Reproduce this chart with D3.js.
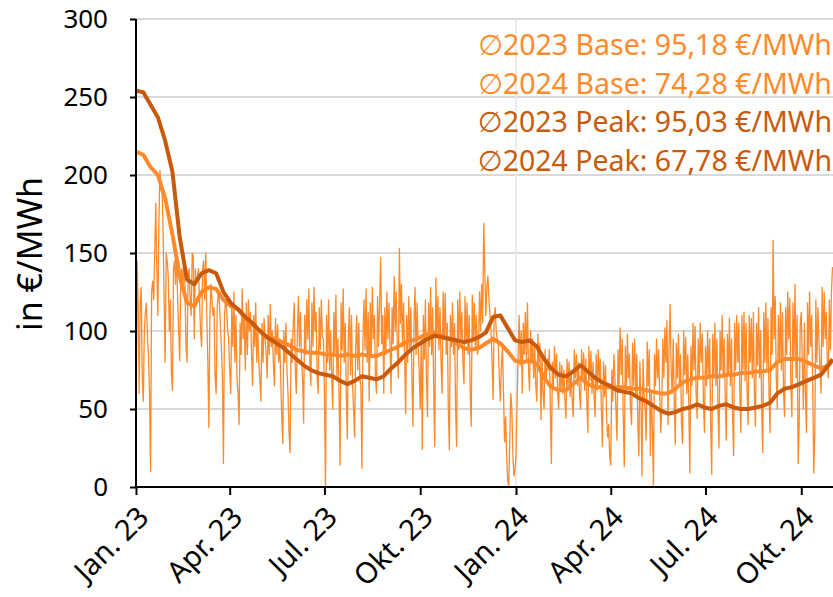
<!DOCTYPE html>
<html><head><meta charset="utf-8">
<script src="https://cdn.jsdelivr.net/npm/d3@7"></script>
<style>
body{margin:0;background:#fff}
svg{display:block}
text{font-family:"Noto Sans","DejaVu Sans",sans-serif}
</style>
</head><body>
<svg id="chart" width="833" height="597"></svg>
<script>
// Daily base price, 2023 (one line per month)
const base2023 = [
15,145,120,60,118,128,70,55,100,112,118,96,84,60,10,125,132,120,150,182,140,110,170,203,190,192,165,120,80,150,145,
135,100,120,74,62,140,145,130,150,120,100,81,135,140,125,150,130,90,80,135,140,120,110,150,148,95,140,130,
135,140,120,100,90,140,145,120,150,110,80,38,110,130,120,110,115,70,60,115,125,120,105,90,70,15,110,120,115,100,95,
75,60,115,90,125,80,110,70,60,40,105,85,127,95,110,75,118,85,120,100,112,85,65,110,90,118,80,100,80,68,
55,105,80,108,95,85,70,110,85,117,90,100,78,65,108,85,104,80,95,70,45,28,100,80,105,75,60,35,22,95,80,
105,118,75,60,100,122,90,112,80,70,41,110,85,120,95,127,80,65,118,90,128,100,112,70,60,115,88,120,97,95,
60,0,110,80,120,75,100,70,50,112,85,123,70,95,60,14,118,88,127,80,105,60,31,98,115,72,110,65,50,32,90,
110,75,105,70,65,12,95,120,88,127,80,112,55,118,85,128,95,110,70,60,122,90,118,147,92,110,60,115,85,125,95,
118,90,60,115,92,135,100,125,88,70,153,105,130,90,118,85,47,110,80,122,88,115,70,39,105,128,85,118,90,75,
50,95,24,110,82,120,70,45,118,90,128,85,115,60,26,134,98,122,88,115,80,60,125,95,124,85,105,50,24,110,90,
118,85,105,50,26,120,88,125,95,112,80,66,122,92,118,85,110,60,39,123,95,118,88,110,85,90,125,100,130,105,
169,140,110,128,135,120,110,100,80,56,110,115,100,95,90,70,55,78,90,60,29,45,20,5,0,30,60,50,20,7,11
];
// Daily base price, 2024 (Jan - Oct)
const base2024 = [
20,53,85,110,78,100,60,105,85,112,80,118,75,62,100,80,95,70,90,65,55,98,80,92,43,85,60,50,88,70,82,
75,88,50,15,80,65,90,70,85,60,50,80,62,78,60,75,55,44,82,65,80,58,75,55,45,88,70,85,65,
80,60,50,88,70,86,62,82,55,35,90,68,87,60,80,58,45,85,62,88,70,82,50,26,80,58,78,45,32,40,20,
14,75,55,85,70,50,30,88,65,102,72,95,45,13,90,60,98,70,85,50,40,92,65,95,60,85,40,20,80,55,
7,82,60,50,30,93,65,88,20,60,40,1,85,65,95,70,88,60,35,50,95,70,102,80,107,40,90,117,75,60,95,
55,27,92,70,98,65,85,40,28,100,72,96,60,85,50,9,90,65,105,75,103,60,44,95,70,105,80,98,55,35,
90,65,100,70,95,40,8,98,70,105,65,95,50,25,100,75,110,70,95,55,30,98,72,108,65,95,46,20,105,75,110,
80,105,60,35,110,75,112,68,105,60,40,110,80,108,70,112,60,39,105,78,115,70,100,50,22,112,80,118,75,108,60,
35,115,85,158,95,122,70,50,110,80,118,75,112,60,45,115,85,125,95,121,65,45,118,82,130,70,110,15,40,105,
112,80,50,105,60,35,118,85,125,90,110,65,9,35,120,80,115,95,75,60,128,90,125,95,112,80,70,120,88,125,141
];
// Rolling averages, sampled weekly (days since 1 Jan 2023)
const avgDays = [0,7,14,21,28,35,42,49,56,63,70,77,84,91,98,105,112,119,126,133,140,147,154,161,168,175,182,189,196,203,210,217,224,231,238,245,252,259,266,273,280,287,294,301,308,315,322,329,336,343,350,357,364,371,378,385,392,399,406,413,420,427,434,441,448,455,462,469,476,483,490,497,504,511,518,525,532,539,546,553,560,567,574,581,588,595,602,609,616,623,630,637,644,651,658,665,669];
const baseAvg = [215,213,205,200,185,162,135,118,116,125,128,127,120,116,114,108,104,100,96,95,93,91,88,87,86,86,85,85,84,85,84,85,84,84,86,88,90,93,94,96,98,99,97,95,92,89,88,89,92,95,92,87,81,80,81,79,70,64,62,62,66,70,66,64,64,64,64,64,63,63,62,61,60,60,63,67,69,70,70,71,71,72,72,73,73,74,74,75,80,82,82,82,80,78,76,78,81];
const peakAvg = [254,253,245,237,222,202,160,133,130,137,139,137,125,118,114,109,105,100,96,93,90,86,82,78,75,73,72,71,68,66,68,71,70,69,71,76,80,85,89,92,95,97,96,95,94,93,94,96,99,109,110,102,94,93,94,90,82,76,72,71,74,78,74,70,67,65,62,61,60,57,55,52,49,47,48,50,51,53,51,50,52,53,51,50,50,51,52,54,60,63,64,66,68,70,72,78,82];

const yTicks = [0,50,100,150,200,250,300];
const xTickDates = ["2023-01-01","2023-04-01","2023-07-01","2023-10-01","2024-01-01","2024-04-01","2024-07-01","2024-10-01"];
const xTickLabels = ["Jan. 23","Apr. 23","Jul. 23","Okt. 23","Jan. 24","Apr. 24","Jul. 24","Okt. 24"];
const legendLines = ["\u22052023 Base: 95,18 €/MWh","\u22052024 Base: 74,28 €/MWh","\u22052023 Peak: 95,03 €/MWh","\u22052024 Peak: 67,78 €/MWh"];
const legendKinds = ["base","base","peak","peak"];

const COL_BASE = "#FF8A2B";
const COL_PEAK = "#C85A0C";

const svg = d3.select("#chart");
const start = new Date(Date.UTC(2023,0,1));
const end = new Date(Date.UTC(2024,9,31));
const x = d3.scaleUtc().domain([start, end]).range([136, 832.5]);
const y = d3.scaleLinear().domain([0, 300]).range([487, 19]);

const daily = base2023.concat(base2024).map((v,i)=>({date:d3.utcDay.offset(start,i), v}));
const avgB = avgDays.map((d,i)=>({date:d3.utcDay.offset(start,d), v:baseAvg[i]}));
const avgP = avgDays.map((d,i)=>({date:d3.utcDay.offset(start,d), v:peakAvg[i]}));

// gridlines
svg.append("g").selectAll("line").data(yTicks.filter(t=>t>0)).join("line")
  .attr("x1", 136).attr("x2", 833).attr("y1", d=>y(d)).attr("y2", d=>y(d))
  .attr("stroke", "#d9d9d9").attr("stroke-width", 2);
svg.append("line")
  .attr("x1", x(new Date(Date.UTC(2024,0,1)))).attr("x2", x(new Date(Date.UTC(2024,0,1))))
  .attr("y1", y(300)).attr("y2", y(0))
  .attr("stroke", "#ebebeb").attr("stroke-width", 2);

const line = d3.line().x(d=>x(d.date)).y(d=>y(d.v));

svg.append("path").datum(daily).attr("d", line)
  .attr("fill","none").attr("stroke", COL_BASE).attr("stroke-width", 1.3).attr("stroke-linejoin","round");
svg.append("path").datum(avgB).attr("d", line)
  .attr("fill","none").attr("stroke", COL_BASE).attr("stroke-width", 4).attr("stroke-linejoin","round");
svg.append("path").datum(avgP).attr("d", line)
  .attr("fill","none").attr("stroke", COL_PEAK).attr("stroke-width", 4).attr("stroke-linejoin","round");

// y axis
const yAxis = d3.axisLeft(y).tickValues(yTicks).tickSize(6).tickPadding(22);
const gy = svg.append("g").attr("transform","translate(136,0)").call(yAxis);
gy.select(".domain").attr("stroke","#000").attr("stroke-width",2).attr("d","M0,19V488");
gy.selectAll(".tick line").attr("stroke","#000").attr("stroke-width",2);
gy.selectAll(".tick text").attr("font-size",26).attr("fill","#000").attr("font-family",'"Noto Sans",sans-serif');

// x axis
const xAxis = d3.axisBottom(x).tickValues(xTickDates.map(s=>new Date(s+"T00:00:00Z")))
  .tickFormat((d,i)=>xTickLabels[i]).tickSize(8).tickSizeOuter(0);
const gx = svg.append("g").attr("transform","translate(0,487)").call(xAxis);
gx.select(".domain").attr("stroke","#000").attr("stroke-width",2).attr("d","M135,0H833");
gx.selectAll(".tick line").attr("stroke","#000").attr("stroke-width",2);
gx.selectAll(".tick text").attr("font-size",29).attr("fill","#000").attr("font-family",'"Noto Sans",sans-serif')
  .attr("text-anchor","end").attr("dy",null).attr("y",0)
  .attr("transform","translate(14,32) rotate(-45)");

// y title
svg.append("text").attr("transform","translate(42,254) rotate(-90)")
  .attr("text-anchor","middle").attr("font-size",34).attr("fill","#000").text("in €/MWh");

// legend
svg.append("g").selectAll("text").data(legendLines).join("text")
  .attr("x", 832).attr("y",(d,i)=>55+i*38.5).attr("text-anchor","end")
  .attr("font-size",28.5).attr("fill",(d,i)=>legendKinds[i]==="base"?COL_BASE:COL_PEAK)
  .text(d=>d);
</script>
</body></html>
